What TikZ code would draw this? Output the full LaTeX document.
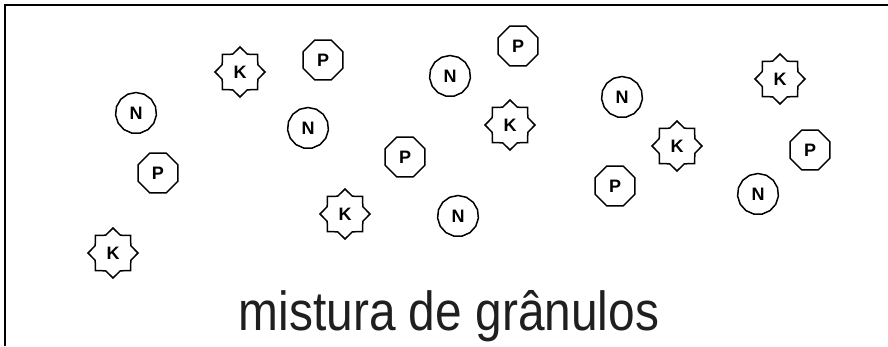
\documentclass[tikz,border=0pt]{standalone}
\usepackage{fontspec}
\setmainfont{Liberation Sans}
\usetikzlibrary{shapes.geometric}
\tikzset{
  granule/.style={draw=black, line width=1.5pt, fill=white, inner sep=0pt, font=\fontsize{18}{18}\selectfont\bfseries},
  kstar/.style={granule, star, star points=8, star point ratio=1.3, minimum size=50pt},
  poct/.style={granule, regular polygon, regular polygon sides=8, minimum size=43pt},
  ncirc/.style={granule, regular polygon, regular polygon sides=15, minimum size=41pt},
}
\begin{document}
\begin{tikzpicture}[x=1pt, y=-1pt]
\useasboundingbox (0,0) rectangle (888,346);
\coordinate (fbl) at (5,346);
\coordinate (ftl) at (5,5);
\coordinate (ftr) at (888,5);
\draw[line width=2pt] (fbl) -- (ftl) -- (ftr);
% K granules
\node[kstar] (k1) at (240,72) {K};
\node[kstar] (k2) at (113,253) {K};
\node[kstar] (k3) at (345,214) {K};
\node[kstar] (k4) at (510,125) {K};
\node[kstar] (k5) at (677,146) {K};
\node[kstar] (k6) at (780,79) {K};
% P granules
\node[poct] (p1) at (323,60) {P};
\node[poct] (p2) at (518,46) {P};
\node[poct] (p3) at (158,173) {P};
\node[poct] (p4) at (405,157) {P};
\node[poct] (p5) at (615,186) {P};
\node[poct] (p6) at (810,150) {P};
% N granules
\node[ncirc] (n1) at (136,113) {N};
\node[ncirc] (n2) at (308,128) {N};
\node[ncirc] (n3) at (450,76) {N};
\node[ncirc] (n4) at (458,216) {N};
\node[ncirc] (n5) at (622,97) {N};
\node[ncirc] (n6) at (758,194) {N};
% caption
\node[anchor=base, inner sep=0pt, text=black!88] (cap) at (449,330)
  {\scalebox{0.87}[1]{\fontsize{55}{55}\selectfont mistura de grânulos}};
\end{tikzpicture}
\end{document}
